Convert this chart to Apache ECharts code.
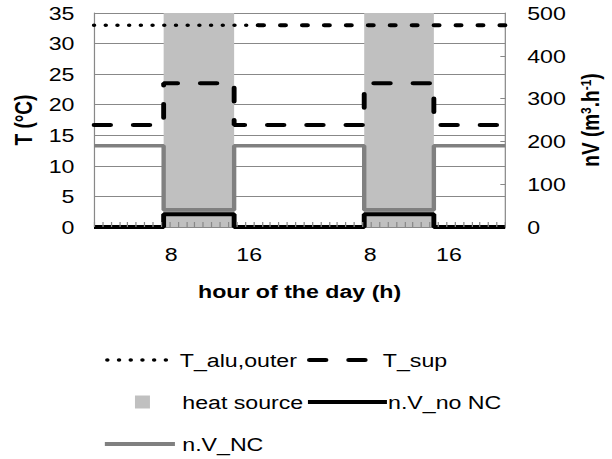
<!DOCTYPE html>
<html>
<head>
<meta charset="utf-8">
<script src="https://cdn.jsdelivr.net/npm/echarts@6/dist/echarts.min.js"></script>
<style>
  html, body { margin: 0; padding: 0; background: #fff; overflow: hidden; }
  #wrap { width: 612px; height: 459px; overflow: hidden; }
  /* the chart is laid out in a narrower box and widened horizontally */
  #chart { width: 502px; height: 459px; transform: scaleX(1.2191); transform-origin: 0 0; }
</style>
</head>
<body>
<div id="wrap"><div id="chart"></div></div>
<script>
// ---- data -------------------------------------------------------------
// hour boundaries of the operating periods (two days)
const hourBreaks = [0, 8.3, 16.7, 32.2, 40.5, 49];
// values held on each period between consecutive boundaries
const heatSource = [0, 35, 0, 35, 0];              // on/off band, left axis (°C scale)
const tSup       = [16.7, 23.5, 16.7, 23.5, 16.7]; // °C
const nvNoNC     = [0, 30, 0, 30, 0];              // m3/h
const nvNC       = [190, 40, 190, 40, 190];        // m3/h
// outer aluminium temperature, constant over the two days
const tAluHours  = [0, 19.6, 49];
const tAluOuter  = [33, 33, 33];
// hour-of-day tick labels
const hourLabelPos = [9.2, 18.5, 32.9, 42.3];
const hourLabels   = ['8', '16', '8', '16'];

const NAMES = {
  alu: 'T_alu,outer', sup: 'T_sup', heat: 'heat source',
  noNC: 'n.V_no NC', nc: 'n.V_NC'
};

// ---- helpers ----------------------------------------------------------
function stepData(values) {
  return hourBreaks.map((h, i) => [h, values[Math.min(i, values.length - 1)]]);
}
function pairs(xs, ys) { return xs.map((x, i) => [x, ys[i]]); }

const FONT = '"Liberation Sans", Arial, sans-serif';
const GRID_GREY = '#888888';
const DOT = { width: 3.6, dash: [0.1, 9.5] };
const DOT2 = { width: 4, dash: [4.2, 13.8] };
const DASH = { width: 4, dash: [13.6, 18.6] };

const aluAll = pairs(tAluHours, tAluOuter);

const chart = echarts.init(document.getElementById('chart'), null, {
  renderer: 'svg', width: 502, height: 459
});

// ---- legend drawn as graphic rows ---------------------------------------
const r1 = 360, r2 = 402, r3 = 444;
const txt = (s, x, y) => ({
  type: 'text', x: x, y: y,
  style: { text: s, fill: '#000', fontSize: 19, fontFamily: FONT, verticalAlign: 'middle' }
});
const seg = (x1, x2, y, stroke, w, dash, cap) => ({
  type: 'line', shape: { x1: x1, y1: y, x2: x2, y2: y },
  style: { stroke: stroke, lineWidth: w, lineDash: dash || null, lineCap: cap || 'butt' }
});

const legendGraphics = [
  seg(88, 137, r1, '#000', DOT.width, DOT.dash, 'round'),
  txt(NAMES.alu, 147.5, r1),
  seg(253.8, 307.5, r1, '#000', DASH.width, DASH.dash, 'round'),
  txt(NAMES.sup, 314, r1),
  { type: 'rect', shape: { x: 110.7, y: r2 - 6.5, width: 12.3, height: 13 }, style: { fill: '#c0c0c0' } },
  txt(NAMES.heat, 149.5, r2),
  seg(252.6, 317.4, r2, '#000', 4),
  txt(NAMES.noNC, 318.3, r2),
  seg(86, 143.5, r3, '#808080', 4),
  txt(NAMES.nc, 149.5, r3)
];

const baseLine = { type: 'line', symbol: 'none', clip: false, silent: true, animation: false };

chart.setOption({
  animation: false,
  backgroundColor: '#fff',
  textStyle: { fontFamily: FONT },
  grid: { left: 77.1, right: 85.3, top: 13, bottom: 232 },
  xAxis: {
    type: 'value', min: 0, max: 49, interval: 1, z: 5,
    axisLine: { show: false },
    axisTick: { show: true, inside: true, length: 5, lineStyle: { color: GRID_GREY, width: 1 } },
    splitLine: { show: false },
    axisLabel: {
      customValues: hourLabelPos,
      formatter: function (v) {
        let best = 0;
        hourLabelPos.forEach((p, i) => { if (Math.abs(p - v) < Math.abs(hourLabelPos[best] - v)) best = i; });
        return hourLabels[best];
      },
      margin: 18, fontSize: 19, color: '#000', fontFamily: FONT
    },
    name: 'hour of the day (h)', nameLocation: 'middle', nameGap: 55,
    nameTextStyle: { fontWeight: 'bold', fontSize: 19, color: '#000', fontFamily: FONT }
  },
  yAxis: [
    {
      type: 'value', position: 'left', min: 0, max: 35, interval: 5,
      axisLine: { show: true, lineStyle: { color: GRID_GREY, width: 1 } },
      axisTick: { show: false },
      splitLine: { show: true, lineStyle: { color: GRID_GREY, width: 1 } },
      axisLabel: { margin: 16, fontSize: 19, color: '#000', fontFamily: FONT },
      name: 'T (°C)', nameLocation: 'middle', nameRotate: 90, nameGap: 43,
      nameTextStyle: { fontWeight: 'bold', fontSize: 19, color: '#000', fontFamily: FONT }
    },
    {
      type: 'value', position: 'right', min: 0, max: 500, interval: 100,
      axisLine: { show: true, lineStyle: { color: GRID_GREY, width: 1 } },
      axisTick: { show: true, inside: true, length: 4, lineStyle: { color: GRID_GREY, width: 1 } },
      splitLine: { show: false },
      axisLabel: { margin: 18, fontSize: 19, color: '#000', fontFamily: FONT },
      name: '{b|nV (m}{s|3}{b|.h}{s|-1}{b|)}', nameLocation: 'middle', nameRotate: 90, nameGap: 58,
      nameTextStyle: {
        rich: {
          b: { fontWeight: 'bold', fontSize: 19, color: '#000', fontFamily: FONT },
          s: { fontWeight: 'bold', fontSize: 12, color: '#000', fontFamily: FONT, verticalAlign: 'top' }
        }
      }
    }
  ],
  series: [
    Object.assign({}, baseLine, {
      name: NAMES.heat, data: stepData(heatSource), step: 'end', z: 1,
      lineStyle: { width: 0 }, itemStyle: { color: '#c0c0c0' },
      areaStyle: { color: '#c0c0c0', opacity: 1 }
    }),
    Object.assign({}, baseLine, {
      name: NAMES.alu, data: aluAll.slice(0, 2), z: 3,
      itemStyle: { color: '#000' },
      lineStyle: { color: '#000', width: DOT.width, type: DOT.dash, cap: 'round' }
    }),
    Object.assign({}, baseLine, {
      name: NAMES.alu, data: aluAll.slice(1), z: 3,
      itemStyle: { color: '#000' },
      lineStyle: { color: '#000', width: DOT2.width, type: DOT2.dash, cap: 'round' }
    }),
    Object.assign({}, baseLine, {
      name: NAMES.sup, data: stepData(tSup), step: 'end', z: 3,
      itemStyle: { color: '#000' },
      lineStyle: { color: '#000', width: DASH.width, type: DASH.dash, cap: 'round' }
    }),
    Object.assign({}, baseLine, {
      name: NAMES.noNC, data: stepData(nvNoNC), step: 'end', yAxisIndex: 1, z: 3,
      itemStyle: { color: '#000' },
      lineStyle: { color: '#000', width: 4 }
    }),
    Object.assign({}, baseLine, {
      name: NAMES.nc, data: stepData(nvNC), step: 'end', yAxisIndex: 1, z: 3,
      itemStyle: { color: '#808080' },
      lineStyle: { color: '#808080', width: 3.6 }
    })
  ],
  graphic: legendGraphics
});
</script>
</body>
</html>
